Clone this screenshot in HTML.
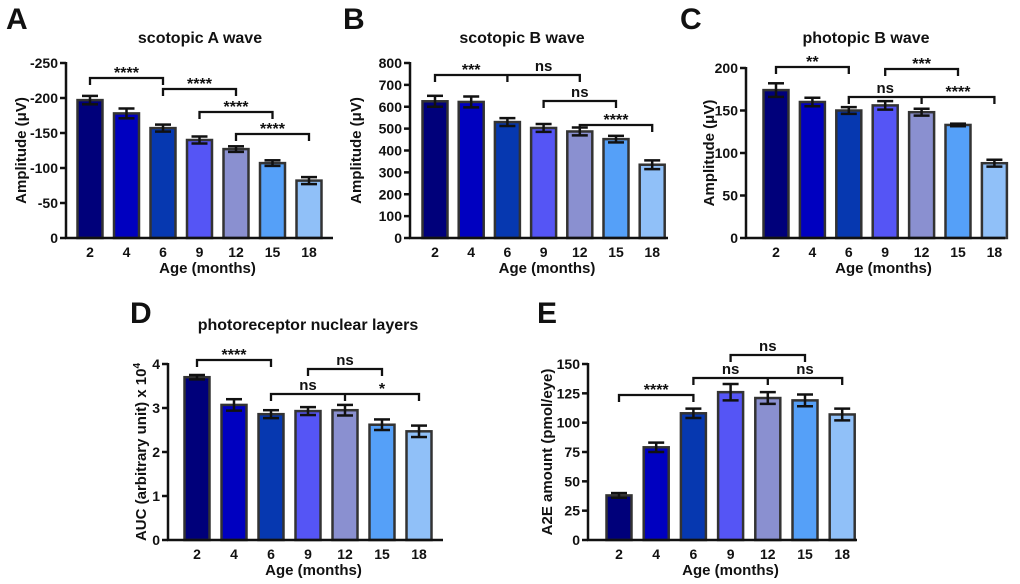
<!DOCTYPE html>
<html><head><meta charset="utf-8"><style>
body{margin:0;background:#fff;}
svg{display:block;font-family:"Liberation Sans",Arial,sans-serif;font-weight:bold;}
</style></head><body>
<svg id="fig" width="1020" height="584" viewBox="0 0 1020 584" xmlns="http://www.w3.org/2000/svg"></svg>
<script>
const ages = ["2","4","6","9","12","15","18"];
const colors = ["#00007a","#0000c0","#0638b0","#5555f5","#8a90d0","#55a0f8","#90c0f8"];
const valsA = [197,178,157,140,127,107,82];
const errA = [6,7,5,5,4,4,5];
const ticksA = [0,50,100,150,200,250];
const valsB = [625,622,530,503,487,452,335];
const errB = [25,25,18,18,18,15,20];
const ticksB = [0,100,200,300,400,500,600,700,800];
const valsC = [174,160,150,156,148,133,88];
const errC = [8,5,4,5,4,1.5,4];
const ticksC = [0,50,100,150,200];
const valsD = [3.7,3.07,2.86,2.93,2.95,2.62,2.47];
const errD = [0.05,0.13,0.09,0.09,0.12,0.12,0.13];
const ticksD = [0,1,2,3,4];
const valsE = [38,79,108,126,121,119,107];
const errE = [2,4,4,7,5,5,5];
const ticksE = [0,25,50,75,100,125,150];

const NS="http://www.w3.org/2000/svg";
const svg=document.getElementById('fig');
function mk(tag,attrs,parent){const e=document.createElementNS(NS,tag);for(const k in attrs)e.setAttribute(k,attrs[k]);(parent||svg).appendChild(e);return e;}
function txt(s,x,y,size,anchor,parent){const t=mk('text',{x:x,y:y,'font-size':size,'text-anchor':anchor||'middle',fill:'#111'},parent);t.textContent=s;return t;}

function panel(p){
  const g=mk('g',{});
  
  
  const yS=v=>p.y0-(v-0)/p.max*(p.y0-p.yTop);
  const xS=i=>p.x0+i*p.dx;
  const L=txt(p.id,p.lx,p.ly,30,'start',g);
  
  if(p.title){const t=txt(p.title,p.tx,p.ty,16,'middle',g);}
  p.vals.forEach((v,i)=>{
    const x=xS(i),w=25;
    const r=mk('rect',{x:x-w/2,y:yS(v),width:w,height:p.y0-yS(v),fill:colors[i],stroke:'#333','stroke-width':2.5},g);
    
    
    const e=p.err[i];
    const eg=mk('g',{stroke:'#111','stroke-width':2.5},g);
    
    
    mk('line',{x1:x,x2:x,y1:yS(v+e),y2:yS(v-e)},eg);
    mk('line',{x1:x-8,x2:x+8,y1:yS(v+e),y2:yS(v+e)},eg);
    mk('line',{x1:x-8,x2:x+8,y1:yS(v-e),y2:yS(v-e)},eg);
    const tl=txt(ages[i],x,p.y0+19,14,'middle',g);
    
  });
  const ax=mk('g',{stroke:'#111','stroke-width':2.5,fill:'none'},g);
  
  mk('line',{x1:p.ax,x2:p.ax,y1:yS(p.ticks[p.ticks.length-1])-1,y2:p.y0+1},ax);
  mk('line',{x1:p.ax-1,x2:p.axEnd,y1:p.y0,y2:p.y0},ax);
  p.ticks.forEach((t,k)=>{
    const y=yS(t);
    mk('line',{x1:p.ax-6,x2:p.ax,y1:y,y2:y},ax);
    const lab=p.tickFmt?p.tickFmt(t):String(t);
    const tt=txt(lab,p.ax-8,y+5,14,'end',g);
    
  });
  const xt=txt('Age (months)',(p.ax+p.axEnd)/2+8,p.y0+35,15,'middle',g);
  
  const yt=mk('text',{x:0,y:0,'font-size':15,'text-anchor':'middle',fill:'#111',transform:`translate(${p.ytx},${(p.y0+p.yTop)/2}) rotate(-90)`},g);
  
  yt.innerHTML=p.ytitle;
  p.br.forEach(b=>{
    const bg=mk('g',{},g);
    
    
    const xa=xS(b.a),xb=xS(b.b);
    const s={stroke:'#111','stroke-width':2.3,fill:'none'};
    mk('path',Object.assign({d:`M${xa},${b.y+7}V${b.y}H${xb}V${b.y+7}`},s),bg);
    if(b.m!==undefined){const xm=xS(b.m);mk('line',Object.assign({x1:xm,x2:xm,y1:b.y,y2:b.y+7},s),bg);}
    b.labels.forEach(l=>{txt(l[0],xS(l[1]),b.y-4+(l[0].startsWith('*')?4:0),l[0].startsWith('*')?16:15,'middle',bg);});
  });
}

panel({id:'A',lx:6,ly:29,title:'scotopic A wave',tx:200,ty:43,vals:valsA,err:errA,ticks:ticksA,max:250,y0:238,yTop:63,ax:66,axEnd:333,x0:90,dx:36.5,ytx:26,ytitle:'Amplitude (μV)',tickFmt:t=>t===0?'0':'-'+t,
  br:[{a:0,b:2,y:78,labels:[['****',1]]},{a:2,b:4,y:89,labels:[['****',3]]},{a:3,b:5,y:112,labels:[['****',4]]},{a:4,b:6,y:134,labels:[['****',5]]}]});
panel({id:'B',lx:343,ly:29,title:'scotopic B wave',tx:522,ty:43,vals:valsB,err:errB,ticks:ticksB,max:800,y0:238,yTop:63,ax:410,axEnd:668,x0:435,dx:36.2,ytx:361,ytitle:'Amplitude (μV)',
  br:[{a:0,b:4,m:2,y:75,labels:[['***',1],['ns',3]]},{a:3,b:5,y:101,labels:[['ns',4]]},{a:4,b:6,y:125,labels:[['****',5]]}]});
panel({id:'C',lx:680,ly:29,title:'photopic B wave',tx:866,ty:43,vals:valsC,err:errC,ticks:ticksC,max:200,y0:238,yTop:68,ax:746,axEnd:1005,x0:776,dx:36.4,ytx:714,ytitle:'Amplitude (μV)',
  br:[{a:0,b:2,y:67,labels:[['**',1]]},{a:3,b:5,y:69,labels:[['***',4]]},{a:2,b:6,m:4,y:97,labels:[['ns',3],['****',5]]}]});
panel({id:'D',lx:130,ly:323,title:'photoreceptor nuclear layers',tx:308,ty:330,vals:valsD,err:errD,ticks:ticksD,max:4,y0:540,yTop:364,ax:168,axEnd:443,x0:197,dx:37,ytx:146,ytitle:'AUC (arbitrary unit) x 10<tspan dy="-6" font-size="10">4</tspan>',
  br:[{a:0,b:2,y:360,labels:[['****',1]]},{a:3,b:5,y:369,labels:[['ns',4]]},{a:2,b:6,m:4,y:394,labels:[['ns',3],['*',5]]}]});
panel({id:'E',lx:537,ly:323,title:'',vals:valsE,err:errE,ticks:ticksE,max:150,y0:540,yTop:364,ax:588,axEnd:857,x0:619,dx:37.2,ytx:552,ytitle:'A2E amount (pmol/eye)',
  br:[{a:0,b:2,y:395,labels:[['****',1]]},{a:3,b:5,y:355,labels:[['ns',4]]},{a:2,b:6,m:4,y:378,labels:[['ns',3],['ns',5]]}]});
</script>
</body></html>
